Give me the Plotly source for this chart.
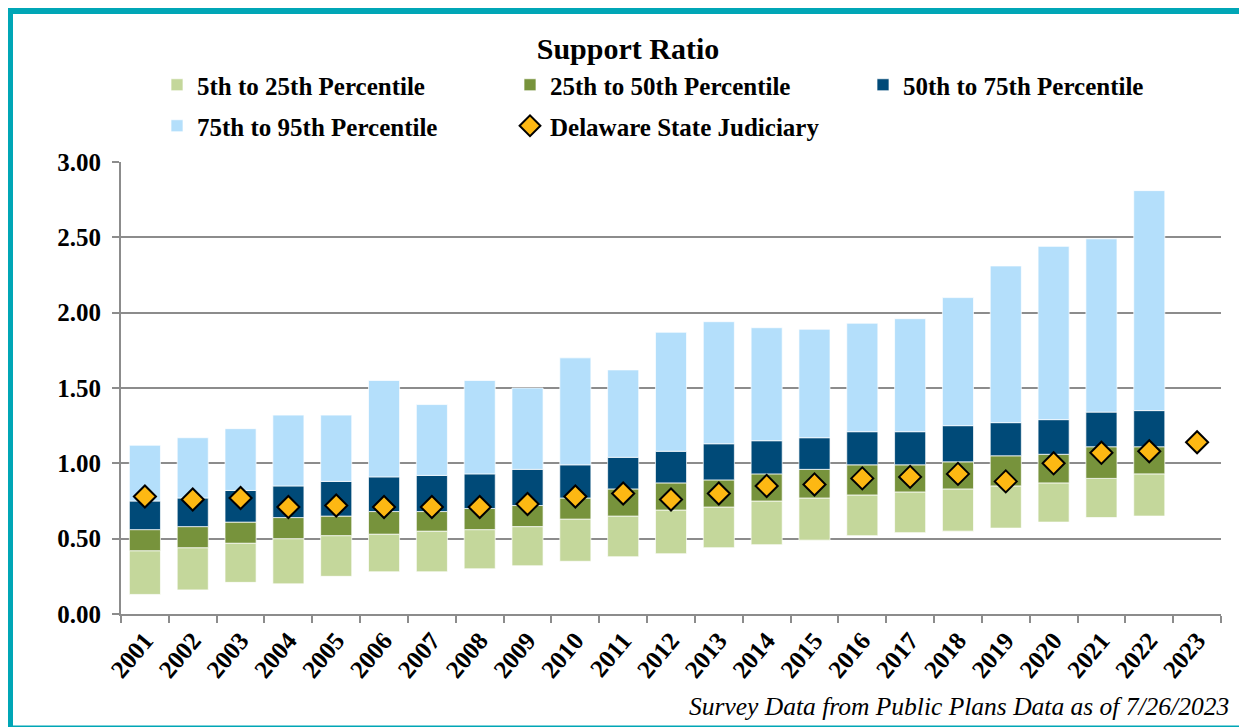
import plotly.graph_objects as go

years = [str(y) for y in range(2001, 2024)]

# percentile boundaries per year (2023 has no survey bars yet)
p5 = [0.13, 0.16, 0.21, 0.20, 0.25, 0.28, 0.28, 0.30, 0.32, 0.35, 0.38, 0.40,
      0.44, 0.46, 0.49, 0.52, 0.54, 0.55, 0.57, 0.61, 0.64, 0.65, None]
p25 = [0.42, 0.44, 0.47, 0.50, 0.52, 0.53, 0.55, 0.56, 0.58, 0.63, 0.65, 0.69,
       0.71, 0.75, 0.77, 0.79, 0.81, 0.83, 0.85, 0.87, 0.90, 0.93, None]
p50 = [0.56, 0.58, 0.61, 0.64, 0.65, 0.68, 0.68, 0.70, 0.72, 0.77, 0.83, 0.87,
       0.89, 0.93, 0.96, 0.99, 0.99, 1.01, 1.05, 1.06, 1.11, 1.11, None]
p75 = [0.75, 0.77, 0.82, 0.85, 0.88, 0.91, 0.92, 0.93, 0.96, 0.99, 1.04, 1.08,
       1.13, 1.15, 1.17, 1.21, 1.21, 1.25, 1.27, 1.29, 1.34, 1.35, None]
p95 = [1.12, 1.17, 1.23, 1.32, 1.32, 1.55, 1.39, 1.55, 1.50, 1.70, 1.62, 1.87,
       1.94, 1.90, 1.89, 1.93, 1.96, 2.10, 2.31, 2.44, 2.49, 2.81, None]
delaware = [0.78, 0.76, 0.77, 0.71, 0.72, 0.71, 0.71, 0.71, 0.73, 0.78, 0.80, 0.76,
            0.80, 0.85, 0.86, 0.90, 0.91, 0.93, 0.88, 1.00, 1.07, 1.08, 1.14]

y_ticks = [0.0, 0.5, 1.0, 1.5, 2.0, 2.5, 3.0]

band_names = ['5th to 25th Percentile', '25th to 50th Percentile',
              '50th to 75th Percentile', '75th to 95th Percentile']
band_colors = ['#C4D79B', '#77933C', '#004A78', '#B4DFFB']
band_legend = ['legend', 'legend', 'legend', 'legend2']

# page offset from the default body margin of the html page
OFF = 8
W, H = 1247 - OFF, 727 - OFF
L, T = 121 - OFF, 162 - OFF
R = W - (1221 - OFF)
B = H - (614 - OFF)
PW, PH = W - L - R, H - T - B


def px_x(px):
    # page pixel -> paper x
    return (px - OFF - L) / PW


def px_y(py):
    # page pixel -> paper y
    return (H - B - (py - OFF)) / PH


def diff(hi, lo):
    return [None if a is None else round(a - b, 3) for a, b in zip(hi, lo)]


fig = go.Figure()

bounds = [p5, p25, p50, p75, p95]
for i, name in enumerate(band_names):
    fig.add_trace(go.Bar(
        x=years,
        y=diff(bounds[i + 1], bounds[i]),
        base=bounds[i],
        name=name,
        legend=band_legend[i],
        width=0.65,
        marker=dict(color=band_colors[i], line=dict(color='rgba(255,255,255,0.7)', width=1)),
    ))

fig.add_trace(go.Scatter(
    x=years,
    y=delaware,
    name='Delaware State Judiciary',
    legend='legend2',
    mode='markers',
    marker=dict(symbol='diamond', size=17, color='#FDB813', line=dict(color='black', width=2)),
))

serif = 'Liberation Serif, Times New Roman, serif'
bold_font = dict(family=serif, color='black', weight='bold')

legend_common = dict(orientation='h', x=px_x(157), xanchor='left', yanchor='middle',
                     font=dict(size=25, **bold_font), entrywidth=308,
                     entrywidthmode='pixels', traceorder='normal', itemwidth=30,
                     bgcolor='rgba(0,0,0,0)')

fig.update_layout(
    width=W,
    height=H,
    margin=dict(l=L, r=R, t=T, b=B),
    barmode='overlay',
    plot_bgcolor='white',
    paper_bgcolor='white',
    font=dict(family=serif, color='black'),
    title=dict(text='<b>Support Ratio</b>', font=dict(size=30, family=serif, color='black'),
               x=(628 - OFF) / W, xref='container', xanchor='center',
               y=1 - (48 - OFF) / H, yref='container', yanchor='middle'),
    showlegend=True,
    legend=dict(y=px_y(85), **legend_common),
    legend2=dict(y=px_y(126), **legend_common),
    xaxis=dict(type='category', range=[-0.5, 22.5], tickangle=-50, tickson='boundaries',
               ticks='outside', ticklen=7, tickcolor='#8C8C8C', tickwidth=2,
               showline=True, linecolor='#8C8C8C', linewidth=2, showgrid=False,
               tickfont=dict(size=25, **bold_font)),
    yaxis=dict(range=[0, 3], tickvals=y_ticks, tickformat='.2f', ticks='outside',
               ticklen=7, tickcolor='#8C8C8C', tickwidth=2, ticklabelstandoff=6,
               showline=True, linecolor='#8C8C8C', linewidth=2,
               showgrid=True, gridcolor='#8C8C8C', gridwidth=2, zeroline=False,
               tickfont=dict(size=25, **bold_font)),
    annotations=[dict(text='<i>Survey Data from Public Plans Data as of 7/26/2023</i>',
                      xref='paper', yref='paper', x=px_x(1231), y=px_y(706),
                      xanchor='right', yanchor='middle', showarrow=False,
                      font=dict(size=25.5, family=serif, color='black'))],
    shapes=[dict(type='rect', xref='paper', yref='paper',
                 x0=px_x(9.5), x1=px_x(1248), y0=px_y(729), y1=px_y(10.5),
                 line=dict(color='#00A6B6', width=7), layer='above')],
)

fig.write_html("out.html")
